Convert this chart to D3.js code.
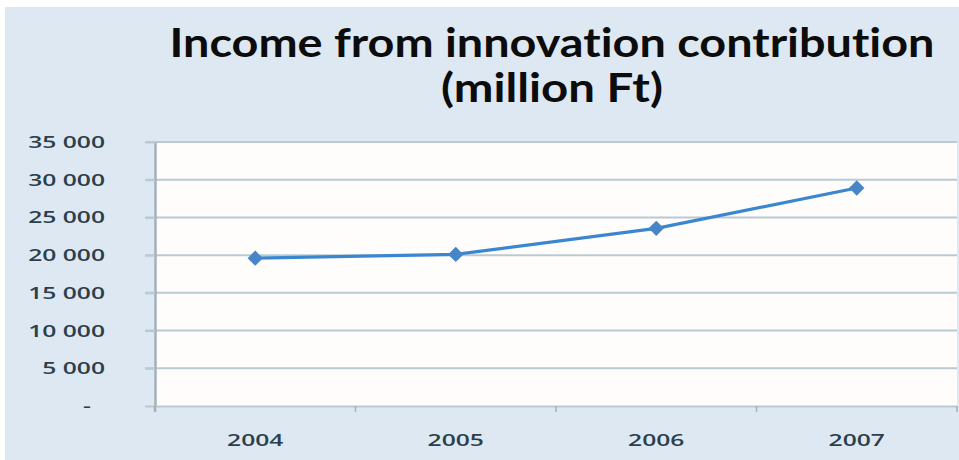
<!DOCTYPE html>
<html>
<head>
<meta charset="utf-8">
<script src="https://cdn.jsdelivr.net/npm/d3@7/dist/d3.min.js"></script>
<style>
  html, body { margin: 0; padding: 0; background: #ffffff; }
  svg { display: block; }
  text { font-variant-ligatures: none; }
</style>
</head>
<body>
<svg id="chart" width="959" height="460"></svg>
<script>
// Yearly income from the innovation contribution, million Ft
const years = ["2004", "2005", "2006", "2007"];
const income = [19600, 20100, 23550, 28900];
const yTicks = [0, 5000, 10000, 15000, 20000, 25000, 30000, 35000];
const titleLines = ["Income from innovation contribution", "(million Ft)"];

const svg = d3.select("#chart");
const W = 959, H = 460;
const plot = { left: 155, right: 957, top: 142, bottom: 406 };
const stretch = 1.45; // wide label lettering

// panel background
svg.append("rect")
  .attr("x", 5).attr("y", 7).attr("width", W - 5).attr("height", H - 7)
  .attr("fill", "#dee8f2");

// plot area
svg.append("rect")
  .attr("x", plot.left).attr("y", plot.top)
  .attr("width", plot.right - plot.left).attr("height", plot.bottom - plot.top)
  .attr("fill", "#fffdfc");

const x = d3.scaleBand().domain(years).range([plot.left, plot.right]);
const y = d3.scaleLinear().domain([0, 35000]).range([plot.bottom, plot.top]);

// horizontal gridlines
svg.append("g")
  .selectAll("line")
  .data(yTicks.filter(d => d > 0))
  .join("line")
  .attr("x1", plot.left - 10).attr("x2", plot.right)
  .attr("y1", d => y(d)).attr("y2", d => y(d))
  .attr("stroke", "#b9cad3").attr("stroke-width", 2);

// y axis
const fmt = d => d === 0 ? "-" : d3.format(",")(d).replace(",", " ");
const yAxis = svg.append("g")
  .attr("transform", `translate(${plot.left},0)`)
  .call(d3.axisLeft(y).tickValues(yTicks).tickFormat(fmt).tickSize(10).tickSizeOuter(0));
yAxis.select(".domain").attr("stroke", "#a3b0b8").attr("stroke-width", 2.5);
yAxis.selectAll(".tick line").attr("stroke", "#b9cad3").attr("stroke-width", 2);
yAxis.selectAll(".tick text")
  .attr("x", d => (d === 0 ? -64 : -50) / stretch)
  .attr("transform", `scale(${stretch},1)`)
  .attr("fill", "#2b3f4c")
  .style("font-family", "'Open Sans', sans-serif")
  .style("font-size", "17px")
  .style("font-weight", "600");

// x axis
const xAxis = svg.append("g")
  .attr("transform", `translate(0,${plot.bottom})`)
  .call(d3.axisBottom(x).tickSize(0).tickPadding(0));
xAxis.select(".domain").attr("stroke", "#b9cad3").attr("stroke-width", 2);
xAxis.selectAll(".tick text")
  .attr("x", 0).attr("y", 40).attr("dy", 0)
  .attr("transform", `scale(${stretch},1)`)
  .attr("fill", "#2b3f4c")
  .style("font-family", "'Open Sans', sans-serif")
  .style("font-size", "17px")
  .style("font-weight", "600");
// left axis runs a little below the baseline
svg.append("line")
  .attr("x1", plot.left).attr("x2", plot.left)
  .attr("y1", plot.bottom).attr("y2", plot.bottom + 6)
  .attr("stroke", "#a3b0b8").attr("stroke-width", 2.5);
// category boundary ticks
svg.append("g")
  .selectAll("line")
  .data(years.slice(1).map(d => x(d)).concat([plot.right]))
  .join("line")
  .attr("x1", d => d).attr("x2", d => d)
  .attr("y1", plot.bottom).attr("y2", plot.bottom + 6)
  .attr("stroke", "#a3b0b8").attr("stroke-width", 1.5);

// income line
const cx = d => x(d) + x.bandwidth() / 2;
const series = years.map((yr, i) => ({ yr, v: income[i] }));
svg.append("path")
  .datum(series)
  .attr("fill", "none")
  .attr("stroke", "#3b87cf")
  .attr("stroke-width", 3.2)
  .attr("stroke-linejoin", "round")
  .attr("d", d3.line().x(d => cx(d.yr)).y(d => y(d.v)));

// diamond markers
svg.append("g")
  .selectAll("path")
  .data(series)
  .join("path")
  .attr("transform", d => `translate(${cx(d.yr)},${y(d.v)})`)
  .attr("d", d3.symbol().type(d3.symbolDiamond2).size(150))
  .attr("fill", "#4585c8");

// title, two centred lines
const titleWidths = [765, 222];
svg.append("g")
  .selectAll("text")
  .data(titleLines)
  .join("text")
  .attr("x", 552)
  .attr("y", (d, i) => 57 + i * 45)
  .attr("text-anchor", "middle")
  .attr("textLength", (d, i) => titleWidths[i])
  .attr("lengthAdjust", "spacingAndGlyphs")
  .attr("fill", "#0c0c0c")
  .style("font-family", "Lato, 'Open Sans', sans-serif")
  .style("font-weight", "700")
  .style("font-size", "40px")
  .text(d => d);
</script>
</body>
</html>
